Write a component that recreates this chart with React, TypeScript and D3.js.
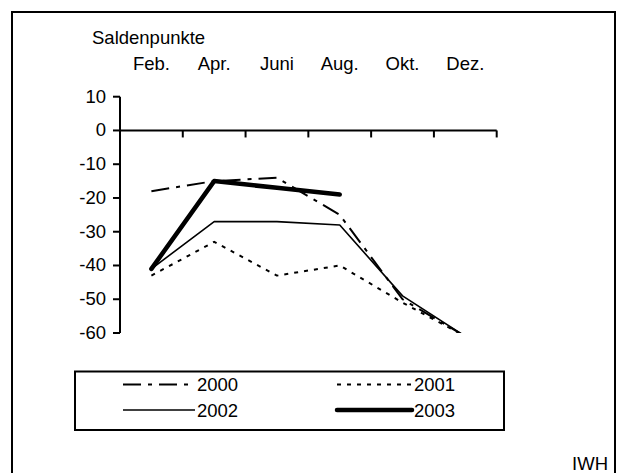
import * as d3 from "d3";

// Saldenpunkte, two-month steps
const months = ["Feb.", "Apr.", "Juni", "Aug.", "Okt.", "Dez."];
const yTicks = [10, 0, -10, -20, -30, -40, -50, -60];

const s2000 = [-18, -15, -14, -25, -50, -61];
const s2001 = [-43, -33, -43, -40, -51, -61];
const s2002 = [-41, -27, -27, -28, -49, -61];
const s2003 = [-41, -15, -17, -19];

const series = [
  { name: "2000", values: s2000, width: 2, dash: "18,7,4,7" },
  { name: "2001", values: s2001, width: 2, dash: "4,6" },
  { name: "2002", values: s2002, width: 1.6, dash: null },
  { name: "2003", values: s2003, width: 4.5, dash: null },
];

const font = "'Liberation Sans', Arial, sans-serif";
const fs = 18.5;

export default function App() {
  const x = d3.scaleBand().domain(months).range([120, 496.7]);
  const y = d3.scaleLinear().domain([-60, 10]).range([333, 96.7]);

  const line = d3
    .line<number>()
    .x((_, i) => x(months[i])! + x.bandwidth() / 2)
    .y((d) => y(d));

  const legendPos = [
    { x1: 123, x2: 195, ty: 384.5 },
    { x1: 337, x2: 412, ty: 384.5 },
    { x1: 123, x2: 195, ty: 410 },
    { x1: 337, x2: 412, ty: 410 },
  ];

  return (
    <svg
      width={619}
      height={473}
      style={{ position: "absolute", left: 0, top: 0, background: "#fff" }}
      fontFamily={font}
    >
      <rect x={12} y={12} width={603} height={520} fill="none" stroke="#000" strokeWidth={2} />

      <text x={92} y={44} fontSize={fs}>Saldenpunkte</text>
      {months.map((m) => (
        <text key={m} x={x(m)! + x.bandwidth() / 2} y={70} fontSize={fs} textAnchor="middle">
          {m}
        </text>
      ))}

      {/* y axis */}
      <line x1={120} x2={120} y1={y(10)} y2={y(-60)} stroke="#000" strokeWidth={2} />
      {yTicks.map((t) => (
        <g key={t}>
          <line x1={113} x2={120} y1={y(t)} y2={y(t)} stroke="#000" strokeWidth={2} />
          <text x={106} y={y(t) + 6} fontSize={fs} textAnchor="end">{t}</text>
        </g>
      ))}

      {/* x axis at 0 */}
      <line x1={120} x2={496.7} y1={y(0)} y2={y(0)} stroke="#000" strokeWidth={2} />
      {months.map((m) => (
        <line
          key={m}
          x1={x(m)! + x.bandwidth()}
          x2={x(m)! + x.bandwidth()}
          y1={y(0)}
          y2={y(0) + 7}
          stroke="#000"
          strokeWidth={2}
        />
      ))}

      <defs>
        <clipPath id="plot">
          <rect x={120} y={y(10)} width={380} height={y(-60) - y(10)} />
        </clipPath>
      </defs>
      <g clipPath="url(#plot)">
        {series.map((s) => (
          <path
            key={s.name}
            d={line(s.values)!}
            fill="none"
            stroke="#000"
            strokeWidth={s.width}
            strokeDasharray={s.dash ?? undefined}
            strokeLinejoin="round"
            strokeLinecap={s.width > 3 ? "round" : "butt"}
          />
        ))}
      </g>

      {/* legend */}
      <rect x={75} y={371.5} width={429} height={58.5} fill="none" stroke="#000" strokeWidth={2} />
      {series.map((s, i) => (
        <g key={s.name}>
          <line
            x1={legendPos[i].x1}
            x2={legendPos[i].x2}
            y1={legendPos[i].ty}
            y2={legendPos[i].ty}
            stroke="#000"
            strokeWidth={s.width}
            strokeDasharray={s.dash ?? undefined}
            strokeLinecap={s.width > 3 ? "round" : "butt"}
          />
          <text x={legendPos[i].x2 + 2} y={legendPos[i].ty + 6.5} fontSize={fs}>{s.name}</text>
        </g>
      ))}

      <text x={608} y={470} fontSize={fs} textAnchor="end">IWH</text>
    </svg>
  );
}
